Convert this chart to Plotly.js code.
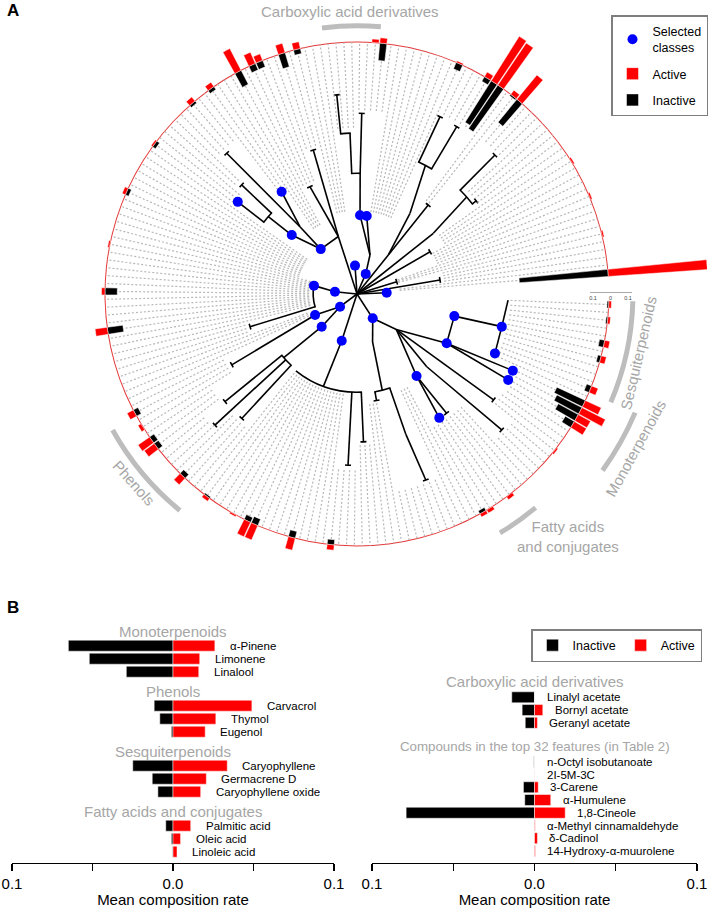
<!DOCTYPE html>
<html>
<head>
<meta charset="utf-8">
<title>Circular compound tree and mean composition rates</title>
<script src="https://cdn.plot.ly/plotly-3.0.1.min.js"></script>
<style>
  html, body { margin: 0; padding: 0; background: #ffffff; overflow: hidden; }
  /* plot is taller than the window so the ring subplot can reach past the top edge */
  #chart { position: absolute; left: 0; top: -57px; width: 708px; height: 965px; }
</style>
</head>
<body>
<div id="chart"></div>
<script>
// ---------- Panel A: leaves round the ring ----------
const LEAF_START = 4.8;   // deg of first leaf
const LEAF_STEP = 1.8;    // deg between leaves
const N_LEAF = 197;

// outer bars: leaf index, mean composition rate (active outward, inactive inward)
const barLeaf = [0, 5, 10, 15, 25, 26, 28, 29, 30, 34, 44, 45, 55, 57, 60, 61, 63, 67, 70, 77, 84, 91, 97, 102, 113, 115, 117, 118, 123, 127, 131, 133, 134, 139, 144, 164, 165, 168, 176, 180, 181, 182, 183, 185, 189, 191, 194, 196];
const barActive = [0.64, 0.01, 0.01, 0.01, 0.18, 0.03, 0.29, 0.30, 0.03, 0.01, 0.03, 0.02, 0.04, 0.055, 0.04, 0.07, 0.14, 0.03, 0.03, 0.01, 0.02, 0.01, 0.02, 0.07, 0.04, 0.02, 0.08, 0.07, 0.05, 0.02, 0.01, 0.09, 0.09, 0.07, 0.03, 0.02, 0.02, 0.02, 0.01, 0.08, 0.08, 0.15, 0.10, 0.04, 0.03, 0.03, 0.015, 0.015];
const barInactive = [0.51, 0, 0, 0, 0.17, 0.01, 0.30, 0.28, 0.03, 0.04, 0.10, 0, 0.03, 0.085, 0.04, 0.04, 0.09, 0.02, 0.015, 0.02, 0.02, 0, 0.07, 0.09, 0.03, 0, 0.03, 0.03, 0.03, 0.01, 0, 0.03, 0.04, 0.04, 0.03, 0.02, 0, 0, 0, 0.06, 0.13, 0.16, 0.18, 0.03, 0.02, 0.03, 0.01, 0.01];

// where the dotted leaf lines start (angle run start, radius as fraction of ring)
const tipFrom = [0, 8, 15, 20, 30, 37, 44, 50, 54, 66, 81, 91, 97, 104, 110, 117, 124, 129, 135, 139, 145, 165, 195, 200, 206, 212, 218, 222, 230, 264, 270, 276, 282, 293, 300, 314, 320, 326, 336];
const tipR = [.17, .35, .17, .34, .40, .60, .79, .46, .79, .33, .73, .66, .33, .61, .48, .31, .52, .78, .65, .61, .24, .19, .46, .21, .59, .69, .78, .69, .40, .70, .60, .44, .80, .42, .61, .80, .70, .71, .61];

// tree nodes (angle deg, radius as fraction of ring, parent index)
const nodeTheta = [0, 51.3, 56.7, 62.0, 64.9, 59.2, 51.3, 38.5, 41.5, 45.2, 38.0, 30.0, 9.6, 17.2, 2.5,
  66.5, 71.6, 82.9, 87.8, 88.5, 88.5, 92.5, 95.8,
  108.0, 106.9, 113.7, 128.9, 130.3, 126.4, 132.8, 137.9, 138.9, 136.6, 142.3, 94.0,
  174.0, 169.0, 197.0, 216.8, 206.6, 209.5, 222.8, 221.0, 219.2, 222.7, 227.2,
  251.9, 250.0, 232.0, 267.0, 272.5,
  302.9, 288.0, 284.7, 280.4, 289.2, 290.3, 318.0, 322.2, 306.0, 306.9, 303.6, 313.8, 316.8, 331.2, 347.2, 347.3, 336.7, 357.7, 333.8, 330.4];
const nodeR = [0, .20, .383, .578, .777, .773, .452, .387, .581, .777, .60, .335, .334, .165, .118,
  .087, .163, .312, .313, .479, .717, .639, .794,
  .24, .597, .465, .229, .35, .504, .761, .349, .467, .63, .598, .113,
  .088, .174, .444, .084, .186, .571, .191, .385, .676, .767, .673,
  .195, .39, .39, .68, .587,
  .115, .20, .395, .43, .59, .787, .21, .686, .402, .592, .59, .40, .788, .406, .396, .589, .596, .60, .689, .69];
const nodeParent = [-1, 0, 1, 2, 3, 3, 1, 0, 7, 8, 8, 0, 0, 0, 0,
  0, 15, 16, 16, 18, 19, 19, 21,
  0, 23, 23, 23, 26, 27, 27, 26, 30, 31, 31, 0,
  0, 35, 36, 0, 38, 39, 38, 41, 42, 42, 42,
  0, 46, 47, 47, 47,
  0, 51, 52, 53, 53, 55, 51, 57, 57, 59, 59, 57, 62, 57, 64, 65, 66, 66, 64, 64];
// n = plain node, a = children hang from an arc, t = tip with cap, x = bare tip
const nodeKind = 'nnnatttnatttttx nnxnatat nttnnxtnatxx natnntnattt naxtt nnatntntntxntnnnxxxx'.replace(/ /g, '').split('');
const selectedNodes = [14, 15, 17, 18, 26, 28, 30, 33, 34, 35, 36, 38, 39, 41, 46, 51, 59, 61, 64, 65, 66, 67, 69, 70];

const groupNames = ['Carboxylic acid derivatives', 'Phenols', 'Sesquiterpenoids', 'Monoterpenoids', 'Fatty acids and conjugates'];
const groupFromLeaf = [45, 114, 185, 178, 165];
const groupToLeaf = [51, 125, 196, 184, 169];

const scaleTicks = [-0.1, 0, 0.1];
const scaleLabels = ['0.1', '0', '0.1'];

// ---------- Panel B ----------
const leftGroups = ['Monoterpenoids', 'Phenols', 'Sesquiterpenoids', 'Fatty acids and conjugates'];
const leftCompounds = ['α-Pinene', 'Limonene', 'Linalool', 'Carvacrol', 'Thymol', 'Eugenol', 'Caryophyllene', 'Germacrene D', 'Caryophyllene oxide', 'Palmitic acid', 'Oleic acid', 'Linoleic acid'];
const leftGroupOf = [0, 0, 0, 1, 1, 1, 2, 2, 2, 3, 3, 3];
const leftInactive = [0.065, 0.052, 0.029, 0.0117, 0.0082, 0.001, 0.025, 0.0129, 0.0094, 0.0045, 0.001, 0.0003];
const leftActive = [0.026, 0.0166, 0.016, 0.049, 0.0266, 0.020, 0.0337, 0.0207, 0.0172, 0.011, 0.0047, 0.0025];

const rightGroups = ['Carboxylic acid derivatives', 'Compounds in the top 32 features (in Table 2)'];
const rightCompounds = ['Linalyl acetate', 'Bornyl acetate', 'Geranyl acetate', 'n-Octyl isobutanoate', '2I-5M-3C', '3-Carene', 'α-Humulene', '1,8-Cineole', 'α-Methyl cinnamaldehyde', 'δ-Cadinol', '14-Hydroxy-α-muurolene'];
const rightGroupOf = [0, 0, 0, 1, 1, 1, 1, 1, 1, 1, 1];
const rightInactive = [0.014, 0.0076, 0.0057, 0.0004, 0.0001, 0.0068, 0.006, 0.079, 0.0001, 0.0001, 0.0001];
const rightActive = [0, 0.0051, 0.0018, 0, 0.0001, 0.0023, 0.010, 0.0189, 0.0004, 0.0018, 0.0005];

const xTicks = [-0.1, -0.05, 0, 0.05, 0.1];
const xTickText = ['0.1', '', '0.0', '', '0.1'];

// ---------- geometry and style ----------
const W = 708, H = 965, OFF = 57;
const RING_PX = 252;                       // ring radius in px
const POLAR_PX = 351;                      // polar subplot radius in px
const BAR_SCALE = 17.5 / 0.1 / RING_PX;    // 0.1 composition rate = 17.5 px
const LW = 1.6 / RING_PX;                  // tree stroke, radial units
const GREY = '#a6a6a6';
const FONT = 'Liberation Sans, Arial, sans-serif';
const groupArcR = [1.055, 1.10, 1.085, 1.19, 1.095];

const px = s => s / W;
const py = s => 1 - (s + OFF) / H;
const leafAngle = i => LEAF_START + i * LEAF_STEP;
const pxDeg = (len, r) => len / (r * RING_PX) * 180 / Math.PI;

// dotted leaf lines, stopping where an inactive bar starts
const inactiveByLeaf = {};
barLeaf.forEach((leaf, k) => { inactiveByLeaf[leaf] = barInactive[k]; });
const dotR = [], dotT = [];
for (let i = 0; i < N_LEAF; i++) {
    const a = leafAngle(i);
    let j = 0;
    while (j + 1 < tipFrom.length && tipFrom[j + 1] <= a) j++;
    dotR.push(tipR[j], 1 - (inactiveByLeaf[i] || 0) * BAR_SCALE, null);
    dotT.push(a, a, null);
}

// tree edges
const edgeR = [], edgeT = [];
for (let i = 1; i < nodeTheta.length; i++) {
    const p = nodeParent[i];
    const startT = (p === 0) ? nodeTheta[i] : (nodeKind[p] === 'a' ? nodeTheta[i] : nodeTheta[p]);
    edgeR.push(nodeR[p], nodeR[i], null);
    edgeT.push(startT, nodeTheta[i], null);
}

// arcs joining children and caps at tips
const arcT = [], arcW = [], arcB = [];
nodeKind.forEach((kind, i) => {
    const r = nodeR[i];
    if (kind === 'a') {
        const ts = [nodeTheta[i]];
        nodeParent.forEach((p, j) => { if (p === i) ts.push(nodeTheta[j]); });
        const lo = Math.min(...ts), hi = Math.max(...ts);
        arcT.push((lo + hi) / 2);
        arcW.push(hi - lo + pxDeg(1.6, r));
    } else if (kind === 't') {
        arcT.push(nodeTheta[i]);
        arcW.push(pxDeg(6, r));
    } else {
        return;
    }
    arcB.push(r - LW / 2);
});

// class arcs outside the ring
const grpT = [], grpW = [];
groupNames.forEach((g, k) => {
    const a0 = leafAngle(groupFromLeaf[k]) - LEAF_STEP / 2;
    const a1 = leafAngle(groupToLeaf[k]) + LEAF_STEP / 2;
    grpT.push((a0 + a1) / 2);
    grpW.push(a1 - a0);
});

const ringFrom = leafAngle(0) - LEAF_STEP / 2;
const ringTo = leafAngle(N_LEAF - 1) + LEAF_STEP / 2;
const barTheta = barLeaf.map(leafAngle);

const traces = [
    {
        type: 'scatterpolar', mode: 'lines', r: dotR, theta: dotT,
        line: {color: '#b8b8b8', width: 1.2, dash: '2px,2px'},
        hoverinfo: 'skip', showlegend: false
    },
    {
        type: 'barpolar', theta: [(ringFrom + ringTo) / 2], width: [ringTo - ringFrom],
        base: [1 - 0.5 / RING_PX], r: [1 / RING_PX],
        marker: {color: '#e53a3a', line: {width: 0}}, hoverinfo: 'skip', showlegend: false
    },
    {
        type: 'barpolar', theta: grpT, width: grpW,
        base: groupArcR, r: groupArcR.map(() => 5 / RING_PX),
        marker: {color: '#bdbdbd', line: {width: 0}}, hoverinfo: 'skip', showlegend: false
    },
    {
        type: 'barpolar', theta: arcT, width: arcW, base: arcB, r: arcT.map(() => LW),
        marker: {color: '#000000', line: {width: 0}}, hoverinfo: 'skip', showlegend: false
    },
    {
        type: 'barpolar', name: 'Inactive', legend: 'legend', legendrank: 3, legendgroup: 'ina',
        theta: barTheta, width: LEAF_STEP * 0.9,
        base: barInactive.map(v => 1 - v * BAR_SCALE), r: barInactive.map(v => v * BAR_SCALE),
        marker: {color: '#000000', line: {color: '#ffffff', width: 0.5}}, hoverinfo: 'skip'
    },
    {
        type: 'barpolar', name: 'Active', legend: 'legend', legendrank: 2, legendgroup: 'act',
        theta: barTheta, width: LEAF_STEP * 0.9,
        base: barActive.map(() => 1), r: barActive.map(v => v * BAR_SCALE),
        marker: {color: '#ff0000', line: {color: '#ffffff', width: 0.5}}, hoverinfo: 'skip'
    },
    {
        type: 'scatterpolar', mode: 'lines', r: edgeR, theta: edgeT,
        line: {color: '#000000', width: 1.6}, hoverinfo: 'skip', showlegend: false
    },
    {
        type: 'scatterpolar', mode: 'markers', name: 'Selected<br>classes', legend: 'legend', legendrank: 1, legendgroup: 'sel',
        r: selectedNodes.map(i => nodeR[i]), theta: selectedNodes.map(i => nodeTheta[i]),
        marker: {color: '#0000ff', size: 10}, hoverinfo: 'skip'
    },
    // scale bar next to the ring
    {
        type: 'scatter', xaxis: 'x3', yaxis: 'y3', x: scaleTicks, y: scaleTicks.map(() => 0),
        mode: 'markers', marker: {opacity: 0}, hoverinfo: 'skip', showlegend: false
    }
];

// ---------- Panel B bars ----------
const L_FIRST = 30.7, L_ROW = 13, L_GAP = 21, L_HEAD = 14.3;
const R_FIRST = 82.3, R_ROW = 12.75, R_GAP = 26.2, R_HEAD = 15.6;
const B_TOP = 615, B_AXIS = 862.7;
const leftY = leftGroupOf.map((g, i) => L_FIRST + i * L_ROW + g * L_GAP);
const rightY = rightGroupOf.map((g, i) => R_FIRST + i * R_ROW + g * R_GAP);

[[leftInactive, leftActive, leftY, 'x', 'y', true], [rightInactive, rightActive, rightY, 'x2', 'y2', false]].forEach(([ina, act, ys, xa, ya, legendOn]) => {
    traces.push({
        type: 'bar', orientation: 'h', xaxis: xa, yaxis: ya, name: 'Inactive',
        x: ina.map(v => -v), y: ys, width: 11, legend: 'legend2', legendrank: 1, showlegend: legendOn,
        marker: {color: '#000000', line: {color: '#ffffff', width: 0.5}}, hoverinfo: 'skip'
    });
    traces.push({
        type: 'bar', orientation: 'h', xaxis: xa, yaxis: ya, name: 'Active',
        x: act, y: ys, width: 11, legend: 'legend2', legendrank: 2, showlegend: legendOn,
        marker: {color: '#ff0000', line: {color: '#ffffff', width: 0.5}}, hoverinfo: 'skip'
    });
});

const annotations = [];
const note = (o) => annotations.push(Object.assign({
    showarrow: false, xanchor: 'center', yanchor: 'middle',
    font: {family: FONT, size: 15, color: GREY}
}, o));

note({xref: 'paper', yref: 'paper', x: px(13), y: py(10), text: '<b>A</b>', font: {family: FONT, size: 17, color: '#000'}});
note({xref: 'paper', yref: 'paper', x: px(13), y: py(607), text: '<b>B</b>', font: {family: FONT, size: 17, color: '#000'}});

// class labels round the ring
const groupLabelX = [350, 133.5, 639, 635.5, 568];
const groupLabelY = [12, 482.5, 353, 448.5, 536];
const groupLabelAngle = [0, 48, -77, -61, 0];
groupNames.forEach((g, k) => {
    note({
        xref: 'paper', yref: 'paper', x: px(groupLabelX[k]), y: py(groupLabelY[k]),
        text: k === 4 ? g.replace(' and', '<br>and') : g, textangle: groupLabelAngle[k]
    });
});

leftGroups.forEach((g, k) => {
    note({xref: 'x', yref: 'y', x: 0, y: leftY[leftGroupOf.indexOf(k)] - L_HEAD, text: g});
});
rightGroups.forEach((g, k) => {
    note({xref: 'x2', yref: 'y2', x: 0, y: rightY[rightGroupOf.indexOf(k)] - R_HEAD, text: g,
        font: {family: FONT, size: k === 1 ? 13.3 : 15, color: GREY}});
});
leftCompounds.forEach((name, i) => {
    note({xref: 'x', yref: 'y', x: leftActive[i], y: leftY[i], text: name, xanchor: 'left', xshift: 13,
        font: {family: FONT, size: 11.5, color: '#000'}});
});
rightCompounds.forEach((name, i) => {
    note({xref: 'x2', yref: 'y2', x: rightActive[i], y: rightY[i], text: name, xanchor: 'left', xshift: 10,
        font: {family: FONT, size: 11.5, color: '#000'}});
});

const bottomAxis = (from, to) => ({
    domain: [px(from), px(to)], range: [-0.1, 0.1], fixedrange: true,
    tickvals: xTicks, ticktext: xTickText, ticks: 'outside', ticklen: 7, tickwidth: 1.2, tickcolor: '#000',
    showline: true, linecolor: '#000', linewidth: 1.2, showgrid: false, zeroline: false,
    ticklabeloverflow: 'allow',
    tickfont: {family: FONT, size: 15, color: '#000'},
    title: {text: 'Mean composition rate', font: {family: FONT, size: 15, color: '#000'}, standoff: 6}
});
const rowAxis = () => ({
    domain: [py(B_AXIS), py(B_TOP)], range: [B_AXIS - B_TOP, 0], visible: false, fixedrange: true
});

const layout = {
    width: W, height: H,
    margin: {l: 0, r: 0, t: 0, b: 0},
    paper_bgcolor: '#ffffff', plot_bgcolor: 'rgba(0,0,0,0)',
    font: {family: FONT, color: '#000'},
    hovermode: false,
    barmode: 'relative',
    polar: {
        domain: {x: [px(357 - POLAR_PX), px(357 + POLAR_PX)], y: [py(294 + POLAR_PX), 1]},
        bgcolor: 'rgba(0,0,0,0)', barmode: 'overlay',
        radialaxis: {visible: false, range: [0, POLAR_PX / RING_PX]},
        angularaxis: {visible: false, rotation: 0, direction: 'counterclockwise'}
    },
    xaxis: Object.assign(bottomAxis(12, 334), {anchor: 'y'}),
    yaxis: Object.assign(rowAxis(), {anchor: 'x'}),
    xaxis2: Object.assign(bottomAxis(372, 697), {anchor: 'y2'}),
    yaxis2: Object.assign(rowAxis(), {anchor: 'x2'}),
    xaxis3: {
        domain: [px(589.5), px(631.5)], range: [-0.12, 0.12], anchor: 'y3', fixedrange: true,
        tickvals: scaleTicks, ticktext: scaleLabels, ticks: '', showline: true, linecolor: '#aaaaaa', linewidth: 1,
        showgrid: false, zeroline: false, tickfont: {family: FONT, size: 5.5, color: '#444'}
    },
    yaxis3: {domain: [py(292), py(286)], visible: false, fixedrange: true, anchor: 'x3'},
    legend: {
        x: px(708), y: py(15), xanchor: 'right', yanchor: 'top',
        bgcolor: '#ffffff', bordercolor: '#7f7f7f', borderwidth: 1.5,
        font: {family: FONT, size: 12.5, color: '#000'}, tracegroupgap: 7
    },
    legend2: {
        orientation: 'h', x: px(702), y: py(629), xanchor: 'right', yanchor: 'top',
        bgcolor: '#ffffff', bordercolor: '#7f7f7f', borderwidth: 1.5,
        font: {family: FONT, size: 12.5, color: '#000'}
    },
    annotations: annotations
};

Plotly.newPlot('chart', traces, layout, {staticPlot: true, displayModeBar: false});
</script>
</body>
</html>
